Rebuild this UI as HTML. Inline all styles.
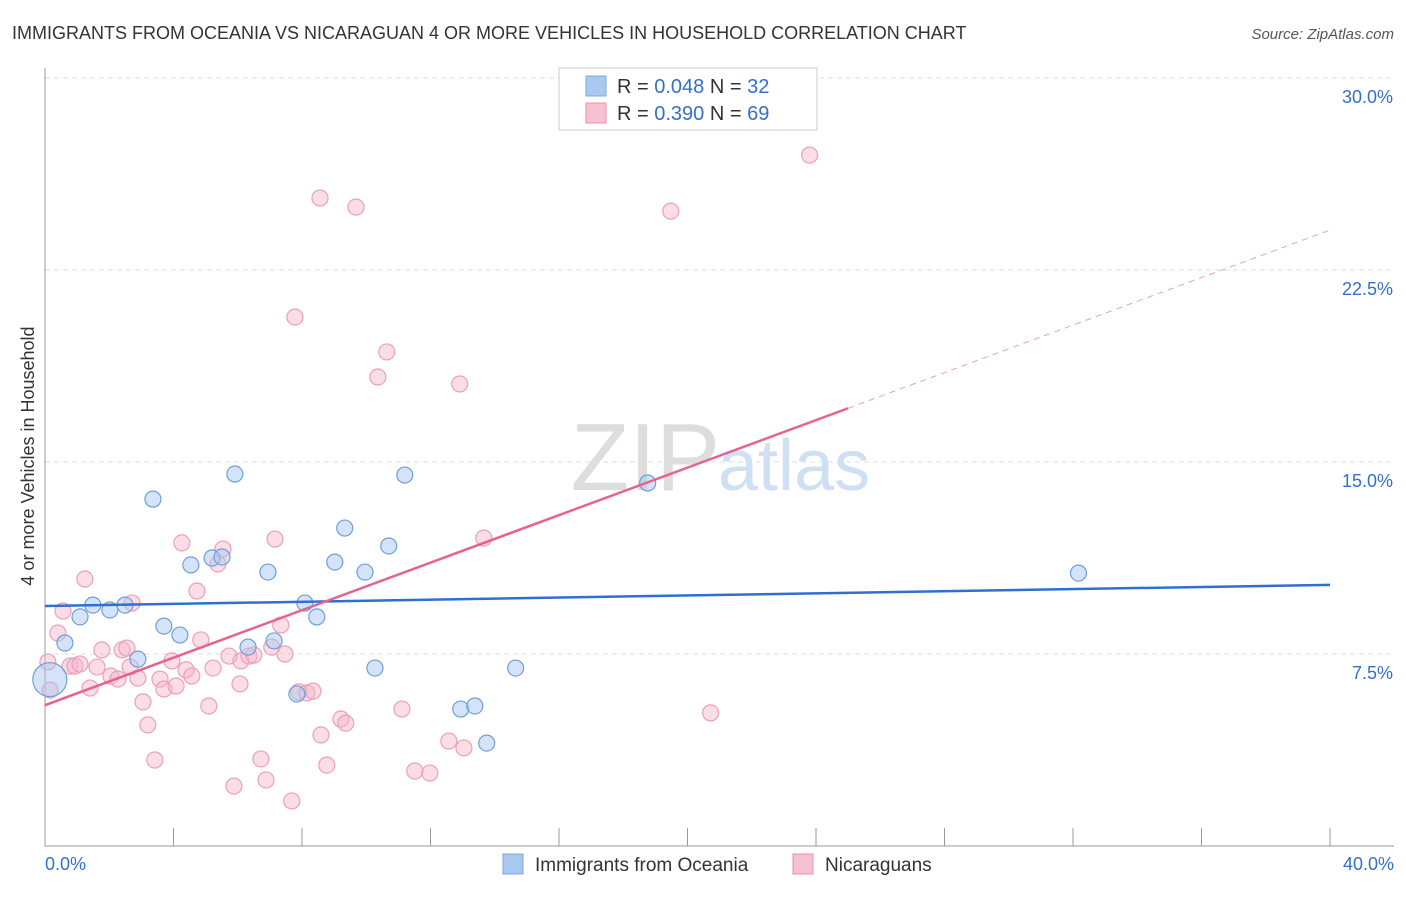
<!DOCTYPE html>
<html><head><meta charset="utf-8"><style>
body{margin:0;background:#fff;font-family:"Liberation Sans",sans-serif}
svg text{font-family:"Liberation Sans",sans-serif}
</style></head><body>
<svg id="c" width="1406" height="892">
<text x="12" y="39" font-size="18" fill="#333">IMMIGRANTS FROM OCEANIA VS NICARAGUAN 4 OR MORE VEHICLES IN HOUSEHOLD CORRELATION CHART</text>
<text x="1394" y="39" font-size="15" fill="#555" font-style="italic" text-anchor="end">Source: ZipAtlas.com</text>
<text x="720" y="490" font-size="96" fill="#ddd" text-anchor="end" font-family="Liberation Serif">ZIP</text>
<text x="718" y="490" font-size="72" fill="#cfe0f5">atlas</text>
<text x="34" y="456" font-size="18" fill="#333" text-anchor="middle" transform="rotate(-90 34 456)">4 or more Vehicles in Household</text>
<g id="grid"></g><g id="pts"></g><g id="lines"></g>
<g>
<rect x="559" y="68" width="258" height="62" fill="#fff" stroke="#ccc"/>
<rect x="586" y="76" width="20" height="20" fill="#a9c8ef" stroke="#7fa9e0"/>
<rect x="586" y="103" width="20" height="20" fill="#f6c1d1" stroke="#e88faa"/>
<text x="617" y="93" font-size="20" fill="#333">R = <tspan fill="#3370cc">0.048</tspan>   N = <tspan fill="#3370cc">32</tspan></text>
<text x="617" y="120" font-size="20" fill="#333">R = <tspan fill="#3370cc">0.390</tspan>   N = <tspan fill="#3370cc">69</tspan></text>
</g>
<g>
<rect x="503" y="854" width="20" height="20" fill="#a9c8ef" stroke="#7fa9e0"/>
<text x="535" y="871" font-size="19" fill="#333">Immigrants from Oceania</text>
<rect x="793" y="854" width="20" height="20" fill="#f6c1d1" stroke="#e88faa"/>
<text x="825" y="871" font-size="19" fill="#333">Nicaraguans</text>
</g>
</svg>
<script>
const xTicks=[0,4,8,12,16,20,24,28,32,36,40];
const yTicks=[7.5,15,22.5,30];
const blueX=[0.15,0.62,1.09,1.49,2.02,2.49,2.89,3.36,3.70,4.20,4.54,5.20,5.51,5.91,6.32,6.94,7.13,7.84,8.09,8.46,9.02,9.33,9.96,10.27,10.70,11.20,12.94,13.38,13.75,14.65,18.76,32.17];
const blueY=[6.5,7.93,8.95,9.41,9.22,9.41,7.30,13.55,8.59,8.24,10.98,11.25,11.29,14.53,7.77,10.70,8.01,5.94,9.49,8.95,11.09,12.42,10.70,6.95,11.72,14.49,5.35,5.47,4.02,6.95,14.18,10.66];
const pinkX=[0.09,0.16,0.40,0.56,0.78,0.93,1.09,1.24,1.40,1.62,1.77,2.05,2.27,2.40,2.55,2.71,2.89,3.05,3.20,3.42,3.58,3.70,3.95,4.08,4.26,4.39,4.57,4.73,4.85,5.10,5.23,5.38,5.54,5.73,5.88,6.07,6.10,6.35,6.50,6.72,6.88,7.06,7.16,7.34,7.47,7.68,7.78,7.90,8.15,8.34,8.56,8.59,8.77,9.21,9.36,9.68,10.36,10.64,11.11,11.51,11.98,12.57,12.91,13.04,13.66,19.48,20.72,23.80,2.65];
const pinkY=[7.19,6.09,8.32,9.18,7.03,7.03,7.11,10.43,6.17,6.99,7.66,6.64,6.52,7.66,7.73,9.49,6.56,5.63,4.73,3.36,6.52,6.13,7.23,6.25,11.84,6.88,6.64,9.96,8.05,5.47,6.95,11.02,11.6,7.42,2.34,6.33,7.23,7.42,7.46,3.40,2.58,7.77,11.99,8.63,7.5,1.76,20.66,6.02,5.98,6.05,25.31,4.34,3.16,4.96,4.80,24.96,18.32,19.30,5.35,2.93,2.85,4.10,18.05,3.83,12.03,24.8,5.2,26.99,7.0];
const trendBlue=[9.375,10.2];
const trendPink=[5.5,24.06];
const X=v=>45+v*32.125, Y=v=>846-v*25.6;
const NS="http://www.w3.org/2000/svg";
function mk(t,a,p){const e=document.createElementNS(NS,t);for(const k in a)e.setAttribute(k,a[k]);p.appendChild(e);return e;}
const g=document.getElementById('grid');
yTicks.forEach(v=>{
 const l=mk('line',{x1:45,x2:1394,y1:Y(v),y2:Y(v),stroke:'#ddd','stroke-dasharray':'5,4'},g);
 
 
 const t=mk('text',{x:1393,y:Y(v)+25,'font-size':18,fill:'#3370cc','text-anchor':'end'},g);t.textContent=v.toFixed(1)+'%';
 
 
});
mk('line',{x1:45,x2:45,y1:68,y2:846,stroke:'#999'},g);
mk('line',{x1:45,x2:1394,y1:846,y2:846,stroke:'#999'},g);
xTicks.forEach(v=>{const l=mk('line',{x1:X(v),x2:X(v),y1:828,y2:846,stroke:'#999'},g);
 
 });
[[0,'start',45],[40,'end',1394]].forEach(([v,a,x])=>{const t=mk('text',{x:x,y:870,'font-size':18,fill:'#3370cc','text-anchor':a},g);t.textContent=v.toFixed(1)+'%';
 
 });
const p=document.getElementById('pts');
pinkX.forEach((x,i)=>{const c=mk('circle',{cx:X(x),cy:Y(pinkY[i]),r:8,fill:'rgba(246,180,202,0.45)',stroke:'#eaa0b8','stroke-width':1.2},p);
 
 });
blueX.forEach((x,i)=>{const c=mk('circle',{cx:X(x),cy:Y(blueY[i]),r:i==0?17:8,fill:'rgba(169,200,239,0.5)',stroke:'#6f9fdc','stroke-width':1.2},p);
 
 });
const L=document.getElementById('lines');
let a=mk('line',{x1:X(0),y1:Y(trendBlue[0]),x2:X(40),y2:Y(trendBlue[1]),stroke:'#2f6fd0','stroke-width':2.5},L);


const pm=(trendPink[1]-trendPink[0])/40;
let b=mk('line',{x1:X(0),y1:Y(trendPink[0]),x2:X(25),y2:Y(trendPink[0]+pm*25),stroke:'#e5638d','stroke-width':2.5},L);


let d=mk('line',{x1:X(25),y1:Y(trendPink[0]+pm*25),x2:X(40),y2:Y(trendPink[1]),stroke:'#eaa0b8','stroke-width':1,'stroke-dasharray':'6,5'},L);


</script>
</body></html>
